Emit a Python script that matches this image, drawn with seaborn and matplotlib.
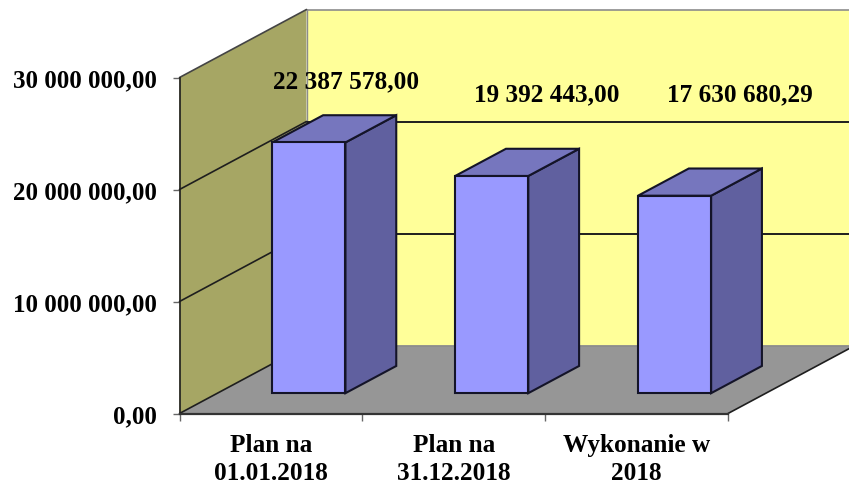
import matplotlib
matplotlib.use('Agg')
import matplotlib.pyplot as plt
import seaborn as sns
from matplotlib.patches import Polygon
from matplotlib.ticker import FuncFormatter
from matplotlib.transforms import Affine2D

categories = ['Plan na\n01.01.2018', 'Plan na\n31.12.2018', 'Wykonanie w\n2018']
values = [22387578.00, 19392443.00, 17630680.29]
value_labels = ['22 387 578,00', '19 392 443,00', '17 630 680,29']
y_ticks = [0, 10000000, 20000000, 30000000]

# layout of the fake 3D box, in pixels / fractions of the depth
DEPTH_X, DEPTH_Y = 127, 68
BAR_FRONT, BAR_BACK = 0.299, 0.699
label_pos = [(0.413, 29720000), (1.508, 28570000), (2.563, 28570000)]

sns.set_theme(style='white')
plt.rcParams['font.family'] = ['Liberation Serif', 'DejaVu Serif']
plt.rcParams['font.weight'] = 'bold'

W, H = 849, 485
fig = plt.figure(figsize=(W / 100, H / 100), dpi=100, facecolor='white')
ax = fig.add_axes([179.5 / W, (H - 414.5) / H, 548.5 / W, 336 / H])
ax.patch.set_alpha(0)

sns.barplot(x=categories, y=values, color='#9999FF', saturation=1, width=0.4,
            edgecolor='#141428', linewidth=1.5, ax=ax, zorder=5)
ax.set_xlim(-0.5, 2.5)
ax.set_ylim(0, 30000000)


def at_depth(f):
    return ax.transData + Affine2D().translate(DEPTH_X * f, DEPTH_Y * f)


x0, x1 = ax.get_xlim()
y0, y1 = ax.get_ylim()
back = at_depth(1)
front = ax.transData


def face(points, color, z, edge='none', lw=0):
    # every point is given in display pixels so faces can span two depths
    p = Polygon(points, closed=True, facecolor=color, edgecolor=edge, linewidth=lw,
                clip_on=False, zorder=z, joinstyle='miter')
    p.set_transform(Affine2D())
    ax.add_patch(p)
    return p


def px(trans, x, y):
    return tuple(trans.transform((x, y)))


# walls and floor
face([px(back, x0, y0), px(back, x1, y0), px(back, x1, y1), px(back, x0, y1)], '#FFFF99', 0)
face([px(front, x0, y0), px(back, x0, y0), px(back, x1, y0), px(front, x1, y0)], '#969696', 1)
face([px(front, x0, y0), px(back, x0, y0), px(back, x0, y1), px(front, x0, y1)], '#A6A664', 1)

ax.plot([x0, x1], [y1, y1], color='#8C8C8C', lw=1.2, transform=back, clip_on=False, zorder=2)
ax.plot([x0, x0], [y0, y1], color='#8C8C8C', lw=1.0, transform=back, clip_on=False, zorder=2)
ax.plot([x0, x1], [y0, y0], color='#8C8C8C', lw=1.2, transform=back, clip_on=False, zorder=2)

# gridlines across back wall and left wall
for t in y_ticks:
    if t > 0 and t < y1:
        ax.plot([x0, x1], [t, t], color='#1E1E1E', lw=1.4, transform=back, clip_on=False, zorder=3)
    a, b = px(front, x0, t), px(back, x0, t)
    color = '#1E1E1E' if t < y1 else '#444444'
    ax.plot([a[0], b[0]], [a[1], b[1]], color=color, lw=1.2, transform=Affine2D(),
            clip_on=False, zorder=3)

# floor front-right edge
a, b = px(front, x1, y0), px(back, x1, y0)
ax.plot([a[0], b[0]], [a[1], b[1]], color='#1E1E1E', lw=1.2, transform=Affine2D(),
        clip_on=False, zorder=3)

# bars: move seaborn's bars back into the box and add their side and top
bar_front = at_depth(BAR_FRONT)
bar_back = at_depth(BAR_BACK)
for bar in ax.containers[0]:
    bx0, bx1 = bar.get_x(), bar.get_x() + bar.get_width()
    top = bar.get_height()
    bar.set_transform(bar_front)
    bar.set_clip_on(False)
    face([px(bar_front, bx1, 0), px(bar_back, bx1, 0), px(bar_back, bx1, top), px(bar_front, bx1, top)],
         '#60609F', 4, edge='#141428', lw=1.5)
    face([px(bar_front, bx0, top), px(bar_front, bx1, top), px(bar_back, bx1, top), px(bar_back, bx0, top)],
         '#7676BE', 4, edge='#141428', lw=1.5)

for (lx, ly), text in zip(label_pos, value_labels):
    ax.text(lx, ly, text, ha='center', va='center', fontsize=18.2, fontweight='bold',
            color='black', zorder=8, clip_on=False)

# axes
sns.despine(ax=ax, top=True, right=True)
ax.spines['left'].set_color('#1E1E1E')
ax.spines['left'].set_linewidth(1.2)
ax.spines['left'].set_zorder(3)
ax.spines['bottom'].set_color('#333333')
ax.spines['bottom'].set_linewidth(1.6)
ax.spines['bottom'].set_zorder(3)

ax.set_yticks(y_ticks)
ax.yaxis.set_major_formatter(FuncFormatter(
    lambda v, pos: f'{v:,.2f}'.replace(',', ' ').replace('.', ',')))
ax.tick_params(axis='y', left=True, length=5, width=1, color='#666666', pad=11.5,
               labelsize=18, labelcolor='black')

ax.set_xticks([-0.5, 0.5, 1.5, 2.5], labels=['', '', '', ''])
ax.set_xticks([0, 1, 2], labels=categories, minor=True)
ax.tick_params(axis='x', which='major', bottom=True, length=5, width=1, color='#666666')
ax.tick_params(axis='x', which='minor', bottom=False, length=0, pad=14, labelsize=18.2,
               labelcolor='black')
for lab in ax.get_xticklabels(minor=True):
    lab.set_fontweight('bold')
    lab.set_linespacing(1.27)
for lab in ax.get_yticklabels():
    lab.set_fontweight('bold')
    lab.set_verticalalignment('center_baseline')
ax.set_xlabel('')
ax.set_ylabel('')

fig.savefig('out.png', dpi=100)
